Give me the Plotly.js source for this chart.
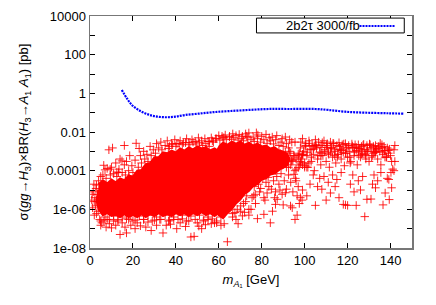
<!DOCTYPE html>
<html>
<head>
<meta charset="utf-8">
<script src="https://cdn.plot.ly/plotly-3.0.1.min.js"></script>
<style>html,body{margin:0;padding:0;background:#fff;}#chart{width:436px;height:305px;}</style>
</head>
<body>
<div id="chart"></div>
<script>
// Expected-limit curve (2b2tau, 3000/fb)
const limitX = [14.8, 17.2, 19.5, 22.6, 26.5, 30.4, 35.0, 39.7, 44.4, 50.6, 56.8, 64.5, 73.9, 83.2, 92.5, 104.9, 111.1, 118.9, 128.2, 139.1, 146.1];
const limitY = [1.48, 0.55, 0.25, 0.138, 0.085, 0.065, 0.058, 0.062, 0.076, 0.089, 0.105, 0.12, 0.138, 0.155, 0.155, 0.155, 0.138, 0.112, 0.1, 0.093, 0.089];

// Outline of the saturated part of the low-mass point cloud
const leftBlobX = [4, 6, 8, 10, 12, 14, 16, 18, 20, 22, 24, 26, 28, 30, 32, 34, 36, 38, 40, 42, 44, 46, 48, 50, 52, 54, 56, 58, 60, 62,
                   62, 60, 58, 56, 54, 52, 50, 48, 46, 44, 42, 40, 38, 36, 34, 32, 30, 28, 26, 24, 22, 20, 18, 16, 14, 12, 10, 8, 6, 4, 3, 4];
const leftBlobY = [2e-5, 3.2e-5, 2.2e-5, 3.5e-5, 2.5e-5, 4e-5, 3.2e-5, 5.6e-5, 5e-5, 1e-4, 1.1e-4, 2.2e-4, 2.5e-4, 5e-4, 5e-4, 8.9e-4, 7.9e-4, 1.1e-3, 8.9e-4, 1.4e-3, 1.1e-3, 1.6e-3, 1.26e-3, 1.8e-3, 1.4e-3, 1.6e-3, 1.1e-3, 1.4e-3, 1e-3, 6.3e-4,
                   4.5e-7, 6.3e-7, 4.5e-7, 6.3e-7, 5e-7, 7.1e-7, 5e-7, 6.3e-7, 4.5e-7, 6.3e-7, 5e-7, 6.3e-7, 4.5e-7, 5.6e-7, 4.5e-7, 6.3e-7, 4.5e-7, 5.6e-7, 4e-7, 5.6e-7, 4e-7, 5e-7, 4e-7, 5.6e-7, 4e-7, 5e-7, 4.5e-7, 6.3e-7, 5e-7, 1e-6, 3.2e-6, 1e-5];
// Outline of the saturated part of the second (m_A1 ~ 60-93 GeV) cloud
const rightBlobX = [59, 60.5, 62, 64, 66, 68, 70, 72, 74, 76, 78, 80, 82, 84, 86, 88, 90, 92, 93,
                    92, 90, 88, 86, 84, 82, 80, 78, 76, 74, 72, 70, 68, 66, 64, 62, 60, 59];
const rightBlobY = [1e-3, 2e-3, 2.8e-3, 2.2e-3, 3.2e-3, 2.5e-3, 3.2e-3, 2.2e-3, 2.8e-3, 2e-3, 2.5e-3, 1.8e-3, 2e-3, 1.4e-3, 1.6e-3, 1.1e-3, 1e-3, 7.1e-4, 4e-4,
                    2e-4, 1.4e-4, 1.1e-4, 7.1e-5, 6.3e-5, 4e-5, 3.5e-5, 2e-5, 1.6e-5, 8.9e-6, 6.3e-6, 3.2e-6, 2e-6, 1e-6, 6.3e-7, 3.5e-7, 5e-7, 1e-6];

// Individual scan points (red)
const pointX = [
  // left edge
  0.8, 1.2, 1.5, 1.8, 2.0, 2.3, 2.6, 2.8, 3.0, 3.2, 3.5, 3.8, 4.0, 4.2, 4.5, 5.0, 5.5, 1.0, 2.0, 3.0,
  // upper fringe
  6, 7, 7.5, 8.8, 9.5, 10, 11, 12, 12.5, 13.5, 14, 15, 16, 16.5, 17, 18, 18.5, 19.5, 20, 21, 21.5, 22.5, 22.9, 23.5, 24, 25, 25.5, 26.5, 27, 28, 28.5, 29.5, 30.5, 31, 32, 33, 33.5, 35, 36, 37, 38, 39.5, 40.5, 42, 43.5, 45, 46, 47.5, 49, 50.5, 52, 53.5, 55, 55.6, 56.5, 57.5, 59, 60, 61.5, 62.4, 63, 65, 66.5, 68, 69.5, 71, 72.5, 73, 74, 76, 77.5, 78.2, 80, 82, 83.5, 84.9, 87, 89.5, 91, 93, 95, 97,
  6.4, 9.4, 12.5, 13.3, 14.9, 18.2, 8, 10.5, 16,
  36.5, 38.5, 40, 41.5, 43, 44.5, 46.5, 48, 49.5, 51, 52.5, 54, 55.5, 57, 58.5,
  60.5, 62, 63.5, 65, 66, 67, 69, 70.5, 71.5, 73.5, 75, 76.5, 78, 79.5, 81, 82.5, 84, 85.5, 86.5, 88, 89, 90, 91.5, 92.5, 94, 95.5, 96.5,
  // lower edge of the cloud
  5, 7, 9, 11, 13, 15, 17, 19, 21, 23, 25, 27, 29, 31, 33, 35, 37, 39, 41, 43, 45, 47, 49, 51, 53, 55, 57, 59, 61,
  // lower fringe
  5, 6.5, 7.5, 8, 9, 10, 11, 12, 13, 14, 15, 16.3, 17, 18, 19, 20, 21, 22, 23.5, 25, 26, 27, 28.5, 30, 31, 32.5, 34, 35.5, 36.6, 37.5, 39, 40.4, 42, 43, 44.5, 46, 47, 48.5, 50, 50.7, 52, 52.8, 53.8, 55, 56.5, 58, 59, 61, 62.5, 64, 66.4, 68.6, 67.5, 69, 70.2, 71, 72.5, 74, 75, 76.3, 77.1, 78, 79, 81, 81.5, 83.3, 84, 85, 86.4, 86.4, 87.2, 88, 89.5, 90, 91, 93.4, 94.2, 95.7, 96.5, 97, 98.8, 99,
  73, 74.5, 75.5, 76.5, 77, 78.5, 79.5, 80.5, 81, 82, 82.5, 83, 84.5, 85.5, 86, 87, 88.5, 89, 90.5, 91.5, 92.5, 93.5, 94.5, 95.5, 96, 97.5, 98, 70, 71.5, 72, 74, 68, 66.5, 65, 64,
  88, 89.5, 91, 92.5, 93.5, 94.5, 95, 96, 97, 98, 99, 100, 101, 102, 86.5, 90, 94,
  86, 87.5, 88.5, 90, 91, 92, 93, 94, 95, 96, 97, 98, 99, 100, 87, 89, 91.5, 93.5, 95.5, 97.5,
  // high-mass band
  97.5, 98, 98.5, 99, 99.5, 100, 100.5, 101, 101.5, 102, 102.5, 103, 103.5, 104, 104.5, 105, 105.5, 106, 106.5, 107, 107.5, 108, 108.5, 109, 109.5, 110, 110.5, 111, 111.5, 112, 112.5, 113, 113.5, 114, 114.5, 115, 115.5, 116, 116.5, 117, 117.5, 118, 118.5, 119, 119.5, 120, 120.5, 121, 121.5, 122, 122.5, 123, 123.5, 124, 124.5, 125, 125.5, 126, 126.5, 127, 127.5, 128, 128.5, 129, 129.5, 130, 130.5, 131, 131.5, 132, 132.5, 133, 133.5, 134, 134.5, 135, 135.5, 136, 136.5, 137, 137.5, 138, 138.5, 139, 139.5, 140, 140.5, 141, 141.6, 142,
  98.8, 103, 105.2, 108, 110.5, 114, 116.8, 119, 123, 126.5, 129, 132, 137.4, 100.5, 104.5, 107.5, 112, 115.5, 121, 125, 128.5, 133, 136, 139,
  98.2, 99.2, 100.2, 101.2, 102.2, 103.2, 104.2, 105.2, 106.2, 107.2, 108.2, 109.2, 110.2, 111.2, 112.2, 113.2, 114.2, 115.2, 116.2, 117.2, 118.2, 119.2, 120.2, 121.2, 122.2, 123.2, 124.2, 125.2, 126.2, 127.2, 128.2, 129.2, 130.2, 131.2, 132.2, 133.2, 134.2, 135.2, 136.2, 137.2, 138.2, 139.2, 140.2,
  // sparse points below the band
  101, 102.5, 104, 105, 106, 107, 108, 109, 110, 111, 112, 113, 114.2, 115, 116, 117, 118, 119, 120, 121.3, 122.4, 123, 124, 125, 126, 127, 128, 129, 130.9, 131.6, 132.3, 133, 134, 135.5, 136.5, 137.5, 138.5, 139.4, 140.5, 141.6, 142, 143, 143
];
const pointY = [
  // left edge
  3e-6, 1.2e-6, 8e-6, 2e-5, 5e-7, 4e-6, 1.5e-6, 1.2e-5, 6e-7, 2.5e-6, 6e-6, 8e-7, 3e-5, 1e-5, 3e-7, 5e-5, 2e-7, 6e-6, 2.5e-6, 1.8e-5,
  // upper fringe
  6e-5, 1.1e-4, 4e-5, 1.2e-3, 6e-5, 1.5e-4, 7e-5, 2.5e-4, 5e-5, 1.2e-4, 4e-4, 8e-5, 2e-4, 6e-5, 3e-4, 1e-4, 6e-4, 1.8e-4, 8e-5, 3.5e-4, 2.6e-3, 1.5e-4, 1.4e-3, 6e-4, 2.5e-4, 1e-3, 4e-4, 7e-4, 3e-4, 1.8e-3, 6e-4, 1.2e-3, 8e-4, 2.5e-3, 1.5e-3, 3e-3, 1.2e-3, 2e-3, 3.5e-3, 1.8e-3, 2.5e-3, 4e-3, 2.5e-3, 3.5e-3, 2.8e-3, 4.5e-3, 2.8e-3, 4e-3, 3.2e-3, 5e-3, 3.5e-3, 4.5e-3, 3.2e-3, 3.2e-3, 5e-3, 3e-3, 4.5e-3, 6.5e-3, 6e-3, 5e-3, 7e-3, 6e-3, 8e-3, 6.5e-3, 7.5e-3, 6e-3, 8e-3, 6e-3, 9e-3, 5.5e-3, 9.1e-3, 7e-3, 6e-3, 7.5e-3, 5e-3, 5.5e-3, 6.5e-3, 4.5e-3, 5.5e-3, 4e-3,
  6.5e-5, 1.45e-4, 1.9e-4, 1.2e-4, 8.5e-5, 8e-5, 3.2e-4, 4.5e-5, 1.3e-4,
  1.5e-3, 2e-3, 1.4e-3, 2.2e-3, 1.8e-3, 2.5e-3, 2.2e-3, 2.8e-3, 2.2e-3, 3e-3, 2.4e-3, 2.8e-3, 2e-3, 2.5e-3, 1.8e-3,
  3.5e-3, 4.5e-3, 3.8e-3, 5e-3, 4e-3, 5.5e-3, 4.2e-3, 5e-3, 3.8e-3, 4.5e-3, 3.5e-3, 5e-3, 4e-3, 3.2e-3, 4.5e-3, 3e-3, 4e-3, 2.6e-3, 3.5e-3, 2.4e-3, 4e-3, 2e-3, 3e-3, 1.8e-3, 2.5e-3, 1.5e-3, 3e-3,
  // lower edge of the cloud
  3e-7, 5e-7, 2.5e-7, 4e-7, 3e-7, 5e-7, 2.5e-7, 4e-7, 3.2e-7, 5e-7, 2.8e-7, 4.5e-7, 3e-7, 5e-7, 2.5e-7, 4e-7, 3e-7, 5e-7, 2.8e-7, 4e-7, 3e-7, 5e-7, 2.5e-7, 4.5e-7, 3e-7, 5e-7, 2.8e-7, 4e-7, 3.2e-7,
  // lower fringe
  2e-7, 4e-7, 1.5e-7, 2.5e-7, 1.2e-7, 3e-7, 1.8e-7, 1.1e-7, 2.5e-7, 1.5e-7, 3e-7, 5e-8, 2e-7, 1.2e-7, 6e-8, 3e-7, 1.5e-7, 2.5e-7, 1e-7, 2e-7, 1.4e-7, 3e-7, 1.2e-7, 2.2e-7, 8e-8, 2.8e-7, 1.5e-7, 3e-7, 6e-8, 1.5e-7, 2.5e-7, 1.7e-7, 3e-7, 1e-7, 2e-7, 3.2e-7, 1.3e-7, 2.5e-7, 3.7e-8, 4e-8, 2e-7, 1.35e-7, 1e-7, 2.5e-7, 1.6e-7, 3e-7, 1.8e-7, 2e-7, 2.5e-7, 1.5e-7, 1.8e-7, 2.1e-8, 4e-7, 1e-6, 6.8e-7, 1.8e-7, 1.5e-6, 4.6e-7, 2.5e-6, 1e-6, 1e-6, 5e-6, 2e-6, 3.3e-7, 8e-6, 5.5e-7, 3e-6, 1.5e-5, 2e-7, 8e-7, 1.8e-6, 8e-6, 3.3e-6, 2e-5, 6e-6, 1.7e-6, 7.2e-6, 1.5e-6, 1.2e-6, 4e-5, 5e-6, 1.5e-5,
  3e-6, 1e-5, 5e-6, 2.5e-5, 4e-6, 1.5e-5, 6e-6, 2e-5, 1.2e-5, 4e-5, 4e-6, 2.5e-5, 7e-6, 4.5e-5, 1.1e-5, 3e-5, 4e-6, 5e-5, 1e-5, 7e-5, 3e-5, 1.1e-5, 6e-5, 2.5e-5, 8e-6, 1e-4, 3e-5, 2e-6, 4e-6, 8e-7, 2e-6, 7e-7, 5e-7, 3e-7, 6e-7,
  6e-4, 3e-4, 5e-4, 2.5e-4, 6e-4, 1.5e-4, 8e-4, 3.5e-4, 6e-4, 1.2e-4, 5e-4, 2.5e-4, 7e-4, 1.8e-4, 1.5e-4, 2.5e-4, 1e-4,
  5e-4, 3e-4, 6e-4, 4e-4, 8e-4, 3e-4, 9e-4, 4.5e-4, 1e-3, 3.5e-4, 6e-4, 4e-4, 7e-4, 3e-4, 2e-4, 1.5e-4, 2.2e-4, 2e-4, 1.5e-4, 2e-4,
  // high-mass band
  3e-3, 8e-4, 2e-4, 1.5e-3, 4e-4, 4.5e-3, 1e-3, 2.5e-4, 2.5e-3, 6e-4, 1.5e-4, 3.5e-3, 1.2e-3, 3e-4, 2e-3, 7e-4, 1e-4, 4e-3, 1.5e-3, 4e-4, 3e-3, 9e-4, 2e-4, 2e-3, 6e-4, 3.5e-3, 1.2e-3, 3e-4, 2.5e-3, 8e-4, 1.5e-4, 3e-3, 1.6e-3, 5e-4, 2.5e-3, 1e-3, 2.5e-4, 2e-3, 7e-4, 2.8e-3, 1.3e-3, 4e-4, 2.2e-3, 9e-4, 1.8e-4, 2.5e-3, 1.5e-3, 5e-4, 2e-3, 1e-3, 3e-4, 2.4e-3, 1.6e-3, 6e-4, 2.2e-3, 1.1e-3, 2e-4, 2.2e-3, 1.4e-3, 5e-4, 1.8e-3, 8e-4, 2.3e-3, 1.2e-3, 4e-4, 2e-3, 1e-3, 3e-4, 2.2e-3, 1.5e-3, 6e-4, 1.8e-3, 9e-4, 2e-3, 1.2e-3, 4e-4, 1.8e-3, 1e-3, 2e-4, 1.6e-3, 7e-4, 1.8e-3, 1.1e-3, 5e-4, 1.5e-3, 8e-4, 1.3e-3, 6e-4, 3e-4, 1.2e-4,
  1.2e-3, 2e-3, 6e-4, 1.3e-3, 2e-3, 8e-4, 1.6e-3, 6e-4, 1.2e-3, 8e-4, 1.5e-3, 7e-4, 1e-3, 8e-4, 5e-4, 2e-3, 1.8e-3, 6e-4, 9e-4, 7e-4, 5e-4, 1e-3, 6e-4, 9e-4,
  2.2e-3, 1.1e-3, 3e-3, 7e-4, 1.8e-3, 9e-4, 2.6e-3, 5e-4, 1.3e-3, 2.2e-3, 6e-4, 1.6e-3, 2.8e-3, 1e-3, 2e-3, 7e-4, 1.4e-3, 2.6e-3, 1.2e-3, 5e-4, 1.8e-3, 1.1e-3, 2.4e-3, 8e-4, 1.5e-3, 2.5e-4, 1.9e-3, 9e-4, 1.6e-3, 6e-4, 1.3e-3, 2.1e-3, 7e-4, 1.2e-3, 2.4e-3, 5e-4, 1.5e-3, 1e-3, 1.4e-3, 2.6e-3, 9e-4, 1.1e-3, 5e-4,
  // sparse points below the band
  3.5e-5, 8e-5, 5e-6, 2e-5, 6e-5, 1.6e-6, 1.5e-5, 4e-5, 1.1e-5, 5e-5, 3e-6, 2.5e-5, 7e-6, 6e-5, 1.5e-5, 3.5e-5, 4e-6, 8e-5, 1.8e-6, 1.7e-6, 1.6e-6, 2e-5, 6e-5, 8e-6, 1.6e-6, 3e-5, 1e-5, 5e-5, 4.2e-7, 3.3e-6, 3.4e-6, 2e-5, 6e-5, 1.3e-5, 3e-5, 8e-5, 1.7e-6, 7e-6, 4e-5, 3.2e-6, 1.3e-5, 1e-4, 3e-4
];

// Axis ticks
const yLabelVals = [1e-8, 1e-6, 1e-4, 1e-2, 1, 100, 10000];
const yLabelText = ['1e-08', '1e-06', '0.0001', '0.01', '1', '100', '10000'];
const yMinorVals = [1e-7, 1e-5, 1e-3, 1e-1, 10, 1000];
const xTickVals = [0, 20, 40, 60, 80, 100, 120, 140];

const red = '#ff0000';
const blobStyle = {type: 'scatter', mode: 'lines', fill: 'toself', fillcolor: red,
                   line: {color: red, width: 2}, hoverinfo: 'skip', showlegend: false};
const traces = [
  Object.assign({x: leftBlobX, y: leftBlobY}, blobStyle),
  Object.assign({x: rightBlobX, y: rightBlobY}, blobStyle),
  {x: pointX, y: pointY, type: 'scatter', mode: 'markers', showlegend: false,
   marker: {symbol: 'cross-thin-open', size: 6, color: 'rgba(255,0,0,0.85)', line: {color: 'rgba(255,0,0,0.85)', width: 1}}},
  {x: limitX, y: limitY, type: 'scatter', mode: 'lines', name: '2b2τ 3000/fb', showlegend: false,
   line: {color: '#0000ff', width: 2.2, dash: '2px,1px', shape: 'spline'}}
];

const font = {family: '"Liberation Sans", Arial, sans-serif', size: 13, color: '#000'};
const layout = {
  width: 436, height: 305,
  margin: {l: 90, r: 24, t: 16, b: 57},
  paper_bgcolor: '#fff', plot_bgcolor: '#fff',
  font: font,
  showlegend: false,
  xaxis: {
    range: [0, 150], tickmode: 'array', tickvals: xTickVals, ticks: 'inside', ticklen: 5, tickcolor: '#000',
    showline: true, linecolor: '#777', linewidth: 1.5, mirror: 'allticks', showgrid: false, zeroline: false,
    title: {text: '<i>m</i><sub><i>A</i>₁</sub> [GeV]', font: font, standoff: 8}
  },
  yaxis: {
    type: 'log', range: [-8, 4], tickmode: 'array', tickvals: yLabelVals, ticktext: yLabelText,
    ticks: 'inside', ticklen: 5, tickcolor: '#000',
    minor: {tickmode: 'array', tickvals: yMinorVals, ticks: 'inside', ticklen: 5, tickcolor: '#000', showgrid: false},
    showline: true, linecolor: '#777', linewidth: 1.5, mirror: 'allticks', showgrid: false, zeroline: false,
    title: {text: 'σ(<i>gg</i>→<i>H</i><sub>3</sub>)×BR(<i>H</i><sub>3</sub>→<i>A</i><sub>1</sub> <i>A</i><sub>1</sub>) [pb]', font: font, standoff: 14}
  },
  shapes: [
    {type: 'rect', xref: 'paper', yref: 'paper', x0: 0.517, x1: 0.976, y0: 0.927, y1: 0.991,
     line: {color: '#000', width: 1}, fillcolor: '#fff'},
    {type: 'line', xref: 'paper', yref: 'paper', x0: 0.837, x1: 0.948, y0: 0.957, y1: 0.957,
     line: {color: '#0000ff', width: 2.2, dash: '2px,1px'}}
  ],
  annotations: [
    {xref: 'paper', yref: 'paper', x: 0.603, y: 0.959, xanchor: 'left', yanchor: 'middle',
     text: '2b2τ 3000/fb', showarrow: false, font: font}
  ]
};
Plotly.newPlot('chart', traces, layout, {staticPlot: true, displayModeBar: false});
</script>
</body>
</html>
